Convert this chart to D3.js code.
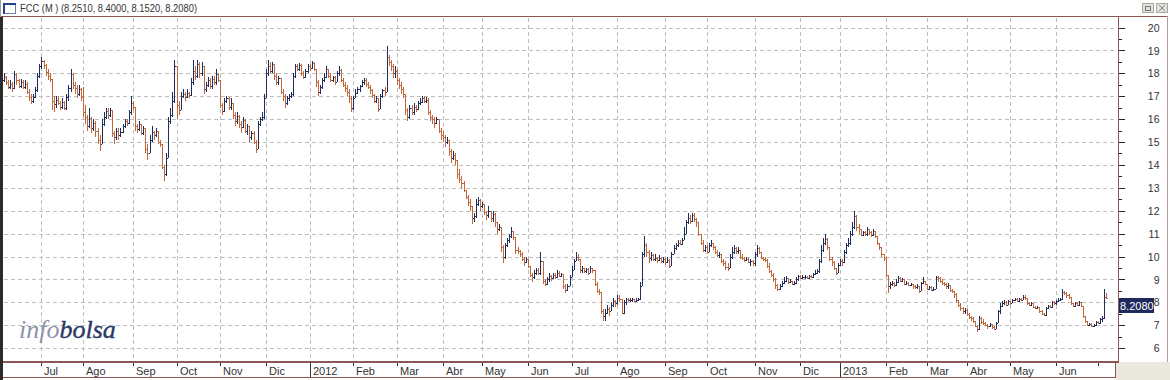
<!DOCTYPE html>
<html><head><meta charset="utf-8">
<script src="https://cdn.jsdelivr.net/npm/d3@7"></script>
<style>body{margin:0;background:#fff;overflow:hidden}svg{display:block}</style>
</head><body><svg id="c" width="1170" height="380"></svg>
<script>
// ---- data (FCC daily OHLC, Jun 2011 - Jul 2013) ----
const firstOpen = 17.7;
const closes = [
17.85,17.6,17.4,17.55,17.35,17.95,17.7,17.45,17.6,17.4,
17.55,17.2,16.95,16.8,16.95,17.25,17.9,18.3,18.55,18.35,
18.05,17.9,17.75,16.8,16.65,16.85,16.7,16.55,16.75,16.5,
16.95,17.35,17.95,17.5,17.35,17.1,17.3,16.95,16.3,16.1,
15.7,16.05,15.6,15.85,15.5,15.1,14.9,15.8,16.1,16.35,
16.2,16.4,15.4,15.2,15.5,15.3,15.45,15.7,15.9,15.85,
16.3,16.7,16.55,15.7,15.55,15.8,15.4,15.6,14.7,14.5,
15.1,15.45,15.3,15.5,15.0,14.9,13.9,13.6,14.3,15.9,
16.2,16.8,18.3,16.6,16.4,17.0,17.1,16.95,17.15,17.05,
17.6,18.1,17.9,18.4,18.0,18.3,17.3,17.5,17.7,17.45,
17.75,17.6,17.95,17.7,16.6,16.35,16.8,16.9,16.55,16.7,
16.2,15.9,16.15,15.8,15.65,15.95,15.5,15.7,15.2,15.4,
15.0,14.7,15.8,16.0,16.1,16.9,18.0,18.3,18.1,18.4,
17.9,17.6,17.8,17.2,17.0,16.7,16.9,17.0,17.1,17.9,
18.3,18.2,18.35,18.0,17.85,18.1,18.3,18.25,18.45,18.2,
17.6,17.2,17.4,17.7,17.85,18.2,17.9,17.7,17.85,17.6,
18.0,18.15,17.7,17.5,17.35,17.2,16.9,16.5,16.9,17.15,
17.3,17.45,17.6,17.7,17.55,17.4,17.25,17.05,16.8,16.9,
16.45,17.0,17.25,17.2,18.7,18.5,18.3,18.0,18.1,17.7,
17.5,17.3,17.1,16.4,16.1,16.5,16.3,16.55,16.45,16.7,
16.75,16.9,16.8,16.85,16.3,16.1,16.0,15.85,16.0,15.5,
15.3,15.2,15.0,15.1,14.6,14.3,14.45,14.2,13.6,13.4,
13.2,12.9,12.6,12.4,12.2,11.7,11.75,12.3,12.45,12.2,
12.3,11.95,11.8,12.0,11.7,11.85,11.5,11.2,11.3,10.4,
10.0,10.5,10.7,10.9,11.1,10.85,10.3,10.25,10.1,9.9,
9.75,9.9,9.6,9.2,9.1,9.3,9.4,9.3,9.8,8.95,
8.8,9.0,9.15,9.05,9.2,9.1,9.3,9.15,9.25,8.7,
8.55,8.7,9.1,9.4,9.8,10.0,9.9,9.4,9.5,9.35,
9.45,9.3,9.5,9.4,8.8,8.5,8.45,7.6,7.4,7.55,
7.7,7.6,7.9,8.05,7.95,8.2,8.15,7.55,8.0,8.15,
8.1,8.1,8.15,8.05,8.1,8.15,8.7,10.1,10.5,10.2,
9.95,10.05,9.9,9.95,9.85,9.95,9.8,9.9,9.75,9.85,
9.6,10.1,10.35,10.5,10.6,10.55,10.7,11.0,11.5,11.7,
11.55,11.8,11.65,11.5,11.0,10.6,10.3,10.4,10.2,10.5,
10.6,10.4,10.2,10.05,10.1,9.8,9.7,9.55,9.5,10.0,
10.2,10.35,10.25,10.3,10.0,9.95,9.85,9.9,9.75,9.8,
9.7,10.1,10.35,10.2,9.95,9.9,9.85,9.6,9.35,9.2,
9.0,8.75,8.6,8.7,8.85,8.95,9.05,8.9,8.95,8.8,
8.85,9.0,9.15,9.05,9.1,9.1,9.05,9.15,9.1,9.25,
9.3,9.35,9.8,10.3,10.6,10.75,10.4,9.9,9.75,9.5,
9.3,9.65,9.8,9.75,10.2,10.5,10.6,11.0,11.3,11.75,
11.3,11.2,10.95,11.05,11.0,11.2,11.05,10.95,11.1,10.9,
10.6,10.4,10.1,9.95,9.2,8.7,8.8,8.85,8.75,8.9,
9.05,8.95,9.0,8.8,8.85,8.75,8.8,8.7,8.65,8.7,
8.5,8.85,8.95,8.8,8.6,8.65,8.55,8.6,9.1,9.05,
8.95,8.85,8.8,8.7,8.75,8.55,8.5,8.35,8.1,7.9,
7.75,7.6,7.65,7.5,7.35,7.3,7.2,6.95,6.85,7.3,
7.15,7.1,7.0,6.95,7.05,6.9,6.85,7.1,7.6,7.85,
7.95,8.0,7.9,8.05,7.95,8.1,8.15,8.05,8.15,8.1,
8.25,8.2,7.95,7.9,7.95,7.8,7.75,7.8,7.6,7.5,
7.45,7.75,7.85,7.8,8.0,7.95,8.05,8.1,8.15,8.45,
8.4,8.3,8.25,7.95,7.85,7.95,7.9,8.0,7.85,7.4,
7.2,7.0,7.05,6.95,7.0,7.15,7.1,7.25,7.3,8.251,8.208];
const highs = [
18.0,17.9,17.7,17.7,17.6,18.1,18.0,17.75,17.75,17.7,
17.7,17.6,17.3,17.1,17.1,17.4,18.0,18.4,18.7,18.6,
18.4,18.2,18.0,17.4,17.0,17.0,17.0,16.8,16.9,16.8,
17.1,17.5,18.2,18.0,17.6,17.5,17.5,17.35,17.4,16.6,
16.2,16.5,16.1,16.0,15.9,15.6,15.3,16.0,16.3,16.5,
16.5,16.5,16.2,15.5,15.6,15.6,15.6,15.8,16.0,16.0,
16.4,17.0,16.8,16.0,15.8,15.9,15.8,15.7,15.5,14.9,
15.3,15.7,15.5,15.6,15.5,15.1,14.6,14.0,14.5,16.1,
16.5,17.2,18.6,17.2,16.8,17.2,17.3,17.2,17.3,17.2,
17.8,18.6,18.3,18.6,18.5,18.5,18.2,17.6,17.85,17.8,
17.9,17.9,18.2,18.0,17.3,16.7,16.9,17.0,16.95,16.9,
16.7,16.3,16.3,16.2,15.9,16.1,16.0,15.8,15.7,15.5,
15.5,15.1,15.9,16.1,16.3,17.1,18.2,18.6,18.5,18.5,
18.4,18.0,17.9,17.8,17.3,17.1,17.0,17.1,17.2,18.0,
18.4,18.4,18.45,18.4,18.1,18.2,18.4,18.4,18.55,18.5,
18.2,17.7,17.5,17.8,18.0,18.3,18.2,18.0,17.9,17.9,
18.1,18.3,18.2,17.8,17.6,17.5,17.3,17.0,17.0,17.3,
17.4,17.5,17.7,17.8,17.8,17.6,17.5,17.3,17.1,17.0,
16.9,17.1,17.3,17.4,19.2,18.8,18.6,18.4,18.3,18.2,
17.8,17.6,17.4,17.1,16.5,16.6,16.6,16.7,16.6,16.8,
16.9,17.0,17.0,16.95,16.9,16.4,16.2,16.1,16.1,16.0,
15.6,15.5,15.3,15.2,15.1,14.7,14.6,14.5,14.2,13.8,
13.5,13.3,12.9,12.7,12.5,12.2,11.9,12.5,12.6,12.5,
12.4,12.3,12.0,12.2,12.0,12.0,11.9,11.5,11.4,11.3,
10.5,10.6,10.8,11.0,11.3,11.1,10.8,10.4,10.3,10.2,
10.0,10.0,9.9,9.6,9.3,9.4,9.5,9.5,10.2,9.8,
9.0,9.1,9.3,9.2,9.3,9.3,9.4,9.35,9.3,9.2,
8.8,8.8,9.2,9.6,9.9,10.2,10.1,9.9,9.6,9.5,
9.5,9.5,9.6,9.5,9.4,8.9,8.6,8.4,7.7,7.7,
7.9,7.8,8.0,8.2,8.1,8.3,8.3,8.1,8.1,8.2,
8.2,8.2,8.2,8.15,8.2,8.2,8.9,10.2,10.9,10.6,
10.3,10.2,10.1,10.1,10.0,10.05,10.0,10.0,9.95,10.0,
9.9,10.2,10.5,10.6,10.7,10.7,10.8,11.3,11.6,11.9,
11.8,11.9,11.9,11.7,11.5,11.0,10.7,10.5,10.5,10.6,
10.7,10.6,10.45,10.3,10.2,10.1,9.9,9.8,9.7,10.1,
10.4,10.5,10.4,10.4,10.3,10.1,10.0,10.0,9.95,9.9,
9.85,10.2,10.5,10.4,10.2,10.0,10.0,9.9,9.7,9.4,
9.3,9.05,8.8,8.8,8.95,9.1,9.15,9.05,9.0,8.95,
8.95,9.1,9.2,9.2,9.2,9.2,9.15,9.2,9.2,9.3,
9.4,9.45,9.9,10.5,10.8,11.0,10.8,10.4,10.0,9.8,
9.5,9.7,9.9,9.9,10.3,10.6,10.8,11.1,11.5,12.0,
11.8,11.4,11.2,11.1,11.1,11.3,11.2,11.1,11.2,11.1,
10.9,10.6,10.4,10.1,10.0,9.2,8.9,8.95,8.9,9.0,
9.15,9.1,9.05,9.0,8.95,8.9,8.85,8.8,8.75,8.8,
8.7,8.9,9.1,8.95,8.8,8.7,8.7,8.65,9.15,9.15,
9.1,9.0,8.9,8.85,8.85,8.75,8.6,8.5,8.4,8.1,
7.95,7.8,7.75,7.7,7.55,7.4,7.35,7.2,7.0,7.4,
7.35,7.25,7.15,7.05,7.1,7.05,6.95,7.15,7.65,7.95,
8.05,8.1,8.05,8.1,8.05,8.15,8.2,8.2,8.2,8.2,
8.3,8.3,8.2,8.0,8.0,7.95,7.85,7.85,7.8,7.65,
7.55,7.8,7.9,7.9,8.05,8.05,8.1,8.2,8.2,8.6,
8.5,8.45,8.35,8.25,7.95,8.0,8.0,8.05,8.0,7.85,
7.4,7.2,7.1,7.1,7.05,7.2,7.2,7.3,7.4,8.6,8.4];
const lows = [
17.6,17.5,17.3,17.3,17.2,17.3,17.5,17.35,17.35,17.3,
17.3,17.1,16.8,16.65,16.7,16.9,17.2,17.8,18.2,18.2,
17.9,17.7,17.6,16.4,16.3,16.5,16.6,16.4,16.45,16.4,
16.4,16.8,17.2,17.3,17.1,16.9,17.0,16.8,16.1,15.8,
15.5,15.6,15.4,15.5,15.2,14.9,14.6,15.0,15.7,16.0,
16.0,16.1,15.2,14.9,15.1,15.1,15.2,15.4,15.6,15.7,
15.8,16.2,16.4,15.5,15.4,15.5,15.3,15.3,14.5,14.2,
14.5,15.0,15.1,15.2,14.9,14.8,13.8,13.3,13.5,14.3,
15.8,16.1,16.7,16.0,16.2,16.4,16.9,16.8,16.9,16.9,
17.0,17.5,17.7,17.8,17.8,17.9,17.1,17.2,17.4,17.3,
17.3,17.5,17.5,17.6,16.5,16.2,16.3,16.7,16.4,16.4,
16.0,15.7,15.8,15.6,15.4,15.6,15.4,15.3,15.0,15.1,
14.9,14.5,14.8,15.7,15.9,16.0,17.0,17.9,18.0,18.0,
17.7,17.5,17.5,17.1,16.8,16.5,16.6,16.8,16.9,17.0,
17.8,18.1,18.1,17.9,17.75,17.8,18.0,18.1,18.2,18.1,
17.4,17.0,17.1,17.3,17.6,17.8,17.8,17.6,17.6,17.5,
17.6,17.9,17.6,17.4,17.2,17.0,16.7,16.3,16.4,16.9,
17.1,17.2,17.4,17.5,17.4,17.3,17.1,16.9,16.7,16.7,
16.3,16.5,16.9,17.0,17.2,18.3,18.1,17.8,17.8,17.5,
17.3,17.1,16.9,16.2,15.9,16.0,16.2,16.2,16.3,16.4,
16.6,16.7,16.7,16.7,16.2,15.9,15.8,15.6,15.8,15.4,
15.1,15.0,14.8,14.9,14.4,14.1,14.2,14.0,13.4,13.2,
13.0,12.8,12.5,12.2,12.0,11.4,11.5,11.7,12.2,12.0,
12.1,11.8,11.6,11.7,11.5,11.5,11.3,11.0,11.1,10.2,
9.7,9.9,10.4,10.6,10.8,10.7,10.1,10.1,10.0,9.8,
9.6,9.7,9.5,9.1,8.9,9.0,9.2,9.2,9.2,8.8,
8.7,8.75,8.9,8.95,9.0,9.0,9.05,9.1,9.1,8.6,
8.4,8.5,8.7,9.1,9.4,9.8,9.8,9.3,9.3,9.3,
9.3,9.2,9.3,9.3,8.7,8.4,8.3,7.5,7.2,7.2,
7.5,7.4,7.6,7.8,7.8,7.9,8.0,7.5,7.5,7.9,
8.0,8.0,8.0,8.0,8.0,8.05,8.1,8.7,10.0,10.0,
9.7,9.8,9.8,9.8,9.7,9.8,9.7,9.7,9.65,9.7,
9.5,9.6,10.1,10.3,10.4,10.5,10.5,10.7,11.0,11.4,
11.4,11.5,11.5,11.3,10.9,10.5,10.2,10.2,10.1,10.2,
10.4,10.3,10.1,10.0,9.95,9.7,9.6,9.4,9.35,9.5,
9.9,10.1,10.1,10.1,9.9,9.85,9.75,9.8,9.7,9.6,
9.6,9.6,10.0,10.1,9.9,9.8,9.75,9.5,9.3,9.1,
8.9,8.6,8.5,8.55,8.65,8.8,8.9,8.8,8.85,8.75,
8.75,8.8,8.95,9.0,9.0,9.0,9.0,9.0,9.05,9.05,
9.2,9.25,9.3,9.7,10.2,10.5,10.3,9.8,9.6,9.4,
9.2,9.3,9.6,9.6,9.7,10.1,10.4,10.5,10.9,11.2,
11.1,11.0,10.9,10.9,10.9,10.9,10.95,10.85,10.9,10.8,
10.5,10.3,10.0,9.8,9.1,8.4,8.6,8.7,8.65,8.7,
8.85,8.9,8.9,8.75,8.75,8.7,8.7,8.6,8.6,8.6,
8.4,8.5,8.8,8.75,8.55,8.55,8.5,8.5,8.6,8.9,
8.85,8.75,8.7,8.6,8.6,8.45,8.4,8.2,7.95,7.8,
7.6,7.5,7.5,7.4,7.25,7.2,7.1,6.9,6.7,6.8,
7.05,7.0,6.95,6.85,6.9,6.85,6.8,6.85,7.1,7.5,
7.8,7.9,7.85,7.9,7.9,7.95,8.05,8.0,8.0,8.05,
8.1,8.1,7.9,7.85,7.85,7.75,7.7,7.7,7.55,7.45,
7.4,7.4,7.7,7.75,7.75,7.9,7.9,8.0,8.05,8.1,
8.3,8.2,8.15,7.9,7.8,7.8,7.85,7.85,7.8,7.3,
7.1,6.95,6.95,6.9,6.9,6.95,7.05,7.05,7.15,7.25,8.152];

const monthLabels = ["Jul","Ago","Sep","Oct","Nov","Dic","2012","Feb","Mar","Abr","May","Jun",
                     "Jul","Ago","Sep","Oct","Nov","Dic","2013","Feb","Mar","Abr","May","Jun",""];
const monthStart  = [18,38,62,83,104,126,147,168,189,211,230,252,273,295,318,338,361,383,402,424,444,463,484,506,526];
const yTickValues = [6,7,8,9,10,11,12,13,14,15,16,17,18,19,20];
const yMinorValues = [6.5,7.5,8.5,9.5,10.5,11.5,12.5,13.5,14.5,15.5,16.5,17.5,18.5,19.5];
const titleText = "FCC (M ) (8.2510, 8.4000, 8.1520, 8.2080)";
const lastLabel = "8.2080";
const watermark = ["info","bolsa"];

// ---- drawing ----
const svg = d3.select("#c");
const W = 1170, H = 380;
const frame = "#8c5656", upCol = "#1f2c5c", dnCol = "#c2673a", gridCol = "#bdbdbd";
const plot = {l:3, t:17, r:1118, b:361};

const n = closes.length;
const opens = closes.map((c,i)=> i ? closes[i-1] : firstOpen);
const x = d3.scaleLinear().domain([0, n-1]).range([4, 1106]);
const y = d3.scaleLinear().domain([6, 20]).range([348.1, 27.5]);

svg.append("rect").attr("width",W).attr("height",H).attr("fill","#fff");

// title bar
svg.append("rect").attr("x",3.5).attr("y",3.5).attr("width",12).attr("height",10).attr("fill","#fff").attr("stroke","#6b7fa8");
svg.append("rect").attr("x",3).attr("y",3).attr("width",13).attr("height",2).attr("fill","#27408b");
svg.append("rect").attr("x",3).attr("y",3).attr("width",2).attr("height",11).attr("fill","#27408b");
svg.append("text").attr("x",20).attr("y",12).attr("font-family","Liberation Sans, Arial, sans-serif")
  .attr("font-size",10).attr("fill","#333").attr("textLength",177).attr("lengthAdjust","spacingAndGlyphs").text(titleText);
// window buttons
[[1142,"r"],[1156,"x"]].forEach(([bx,k])=>{
  svg.append("rect").attr("x",bx+.5).attr("y",3.5).attr("width",11).attr("height",9).attr("fill","#e4e2dc").attr("stroke","#a9a7a0");
  if(k==="r"){svg.append("rect").attr("x",bx+3.5).attr("y",6.5).attr("width",5).attr("height",4).attr("fill","none").attr("stroke","#777");}
  else{svg.append("path").attr("d",`M${bx+3},${5}L${bx+9},${11}M${bx+9},${5}L${bx+3},${11}`).attr("stroke","#888");}
});

// gridlines
const grid = svg.append("g").attr("shape-rendering","crispEdges");
grid.selectAll("line.h").data(yTickValues).join("line")
  .attr("x1",plot.l+1).attr("x2",plot.r-1)
  .attr("y1",d=>Math.round(y(d))+.5).attr("y2",d=>Math.round(y(d))+.5)
  .attr("stroke",gridCol).attr("stroke-dasharray","4,3");
grid.selectAll("line.v").data(monthStart.filter((d,i)=>monthLabels[i]!=="")).join("line")
  .attr("x1",d=>Math.round(x(d))+.5).attr("x2",d=>Math.round(x(d))+.5)
  .attr("y1",plot.t+1).attr("y2",plot.b-1)
  .attr("stroke",gridCol).attr("stroke-dasharray","4,3");

// OHLC bars
function barPath(i){
  const px = Math.round(x(i));
  const o = opens[i], c = closes[i];
  const hi = Math.max(highs[i], o, c), lo = Math.min(lows[i], o, c);
  const yh = Math.round(y(hi)), yl = Math.max(Math.round(y(lo)), yh+1);
  const yo = Math.round(y(o)), yc = Math.round(y(c));
  return `M${px},${yh}h1v${yl-yh}h-1z M${px-1},${yo}h1v1h-1z M${px+1},${yc}h1v1h-1z`;
}
const idx = d3.range(n);
svg.append("g").attr("shape-rendering","crispEdges").selectAll("path").data(idx).join("path")
  .attr("d",barPath)
  .attr("fill",i=> closes[i] >= opens[i] ? upCol : dnCol);

// watermark
const wm = svg.append("text").attr("x",19).attr("y",338)
  .attr("font-family","Liberation Serif, DejaVu Serif, serif").attr("font-style","italic").attr("font-size",26);
wm.append("tspan").attr("fill","#8d93aa").text(watermark[0]);
wm.append("tspan").attr("fill","#2b3864").attr("stroke","#2b3864").attr("stroke-width",0.35).text(watermark[1]);

// right panel
svg.append("rect").attr("x",plot.r).attr("y",plot.t).attr("width",W-plot.r-2).attr("height",plot.b-plot.t).attr("fill","#fff");
const yAxis = d3.axisRight(y).tickValues(yTickValues).tickSize(6).tickFormat(d3.format("d"));
const ya = svg.append("g").attr("transform",`translate(${plot.r+0.5},0)`).call(yAxis);
ya.select(".domain").remove();
ya.selectAll(".tick line").attr("stroke","#222").attr("shape-rendering","crispEdges");
ya.selectAll(".tick text").attr("x",41).attr("text-anchor","end").attr("dy","0.35em")
  .attr("font-family","Liberation Sans, Arial, sans-serif").attr("font-size",10.5).attr("fill","#333");
const yMinor = d3.axisRight(y).tickValues(yMinorValues).tickSize(3).tickFormat("");
const ym = svg.append("g").attr("transform",`translate(${plot.r+0.5},0)`).call(yMinor);
ym.select(".domain").remove();
ym.selectAll(".tick line").attr("stroke","#222").attr("shape-rendering","crispEdges");

// last price label
const ly = Math.round(y(closes[n-1]));
svg.append("rect").attr("x",plot.r+1).attr("y",ly).attr("width",35).attr("height",15).attr("fill","#1f2a5c");
svg.append("text").attr("x",plot.r+2).attr("y",ly+11.5).attr("font-family","Liberation Sans, Arial, sans-serif")
  .attr("font-size",11).attr("fill","#fff").text(lastLabel);

// frame
const fr = svg.append("g").attr("shape-rendering","crispEdges");
fr.append("line").attr("x1",0).attr("x2",W-2).attr("y1",16.5).attr("y2",16.5).attr("stroke",frame);
fr.append("line").attr("x1",plot.r+.5).attr("x2",plot.r+.5).attr("y1",16).attr("y2",362).attr("stroke",frame).attr("stroke-width",1.5);
fr.append("line").attr("x1",W-2.5).attr("x2",W-2.5).attr("y1",16).attr("y2",362).attr("stroke","#b89a9a");
fr.append("rect").attr("x",0).attr("y",17).attr("width",3).attr("height",H-17).attr("fill","#2e2a2a");
fr.append("rect").attr("x",0).attr("y",0).attr("width",1).attr("height",17).attr("fill","#9a9a9a");

// x axis band
svg.append("rect").attr("x",1116).attr("y",362).attr("width",W-1116).attr("height",H-362).attr("fill","#ebe8de");
const xAxis = d3.axisBottom(x).tickValues(monthStart).tickSize(4).tickFormat((d,i)=>monthLabels[i]);
const xa = svg.append("g").attr("transform",`translate(0.5,362)`).call(xAxis);
xa.select(".domain").remove();
xa.selectAll(".tick").attr("transform",d=>`translate(${Math.round(x(d))},0)`);
xa.selectAll(".tick line").attr("stroke","#333").attr("shape-rendering","crispEdges")
  .attr("y2",(d,i)=> /^\d{4}$/.test(monthLabels[i]) ? 16 : 4);
xa.selectAll(".tick text").attr("x",2.5).attr("y",12.5).attr("dy",0).attr("text-anchor","start")
  .attr("font-family","Liberation Sans, Arial, sans-serif").attr("font-size",11).attr("fill","#333");
fr.raise();
const bnd = svg.append("g").attr("shape-rendering","crispEdges");
bnd.append("rect").attr("x",0).attr("y",361).attr("width",plot.r+1).attr("height",2).attr("fill",frame);
bnd.append("rect").attr("x",0).attr("y",377).attr("width",1116).attr("height",1).attr("fill",frame);
bnd.append("rect").attr("x",1115).attr("y",362).attr("width",1).attr("height",16).attr("fill",frame);
bnd.append("rect").attr("x",0).attr("y",17).attr("width",3).attr("height",H-17).attr("fill","#2e2a2a");
</script></body></html>
